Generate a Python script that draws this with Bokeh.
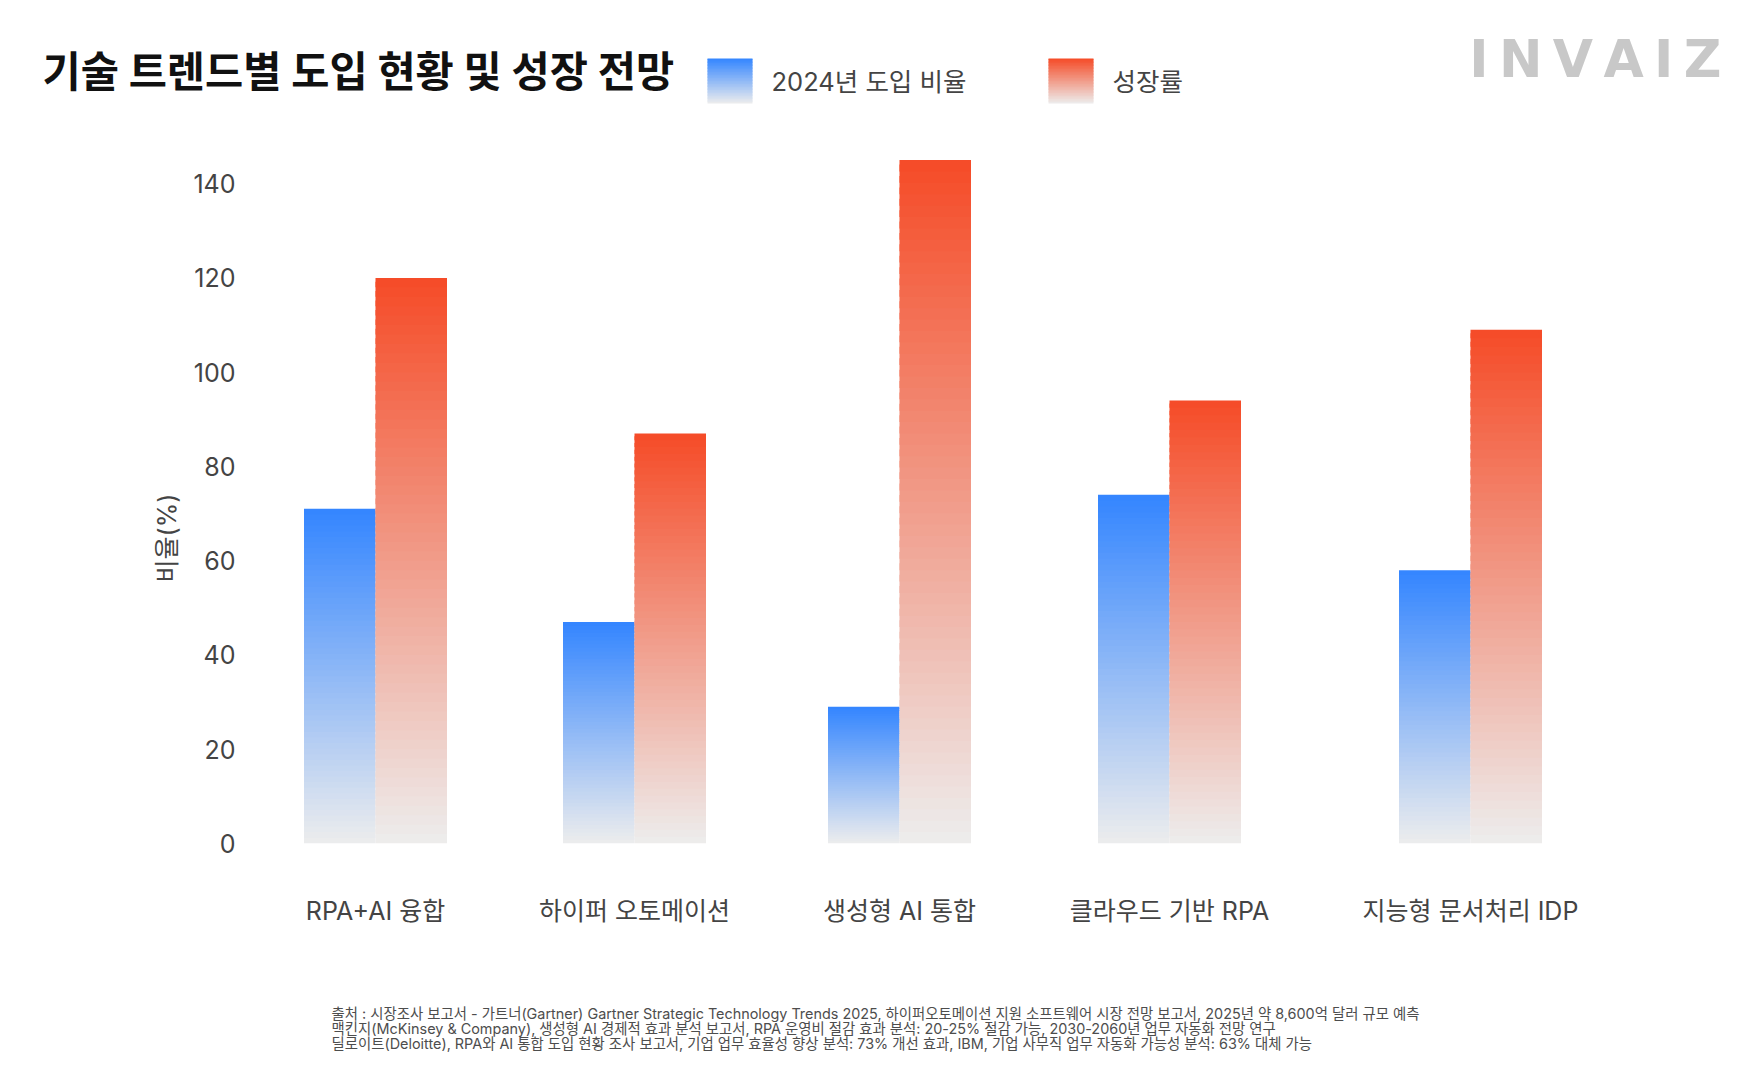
from math import pi

from bokeh.core.properties import value
from bokeh.embed import file_html
from bokeh.layouts import column, row
from bokeh.models import FixedTicker, Range1d
from bokeh.plotting import figure
from bokeh.resources import INLINE

# ---- data ------------------------------------------------------------------
categories = ["RPA+AI 융합", "하이퍼 오토메이션", "생성형 AI 통합", "클라우드 기반 RPA", "지능형 문서처리 IDP"]
adoption_2024 = [71, 47, 29, 74, 58]
growth_rate = [120, 87, 145, 94, 109]
y_ticks = [0, 20, 40, 60, 80, 100, 120, 140]

title_text = "기술 트렌드별 도입 현황 및 성장 전망"
series_names = ["2024년 도입 비율", "성장률"]
y_label = "비율(%)"
logo_text = "INVAIZ"
source_lines = [
    "출처 : 시장조사 보고서 - 가트너(Gartner) Gartner Strategic Technology Trends 2025, 하이퍼오토메이션 지원 소프트웨어 시장 전망 보고서, 2025년 약 8,600억 달러 규모 예측",
    "맥킨지(McKinsey & Company), 생성형 AI 경제적 효과 분석 보고서, RPA 운영비 절감 효과 분석: 20-25% 절감 가능, 2030-2060년 업무 자동화 전망 연구",
    "딜로이트(Deloitte), RPA와 AI 통합 도입 현황 조사 보고서, 기업 업무 효율성 향상 분석: 73% 개선 효과, IBM, 기업 사무직 업무 자동화 가능성 분석: 63% 대체 가능",
]

# ---- styling ----------------------------------------------------------------
FONT = "Inter, 'Noto Sans CJK KR', sans-serif"
TEXT = "#444444"
BLUE = "#3385ff"
RED = "#f54b27"
BASE = "#ededed"
N_STEPS = 60

# page layout in pixels (x to the right, y downwards)
PAGE_W, PAGE_H = 1745, 1071
HEADER_H = 136
FOOTER_TOP = 990
SIDE_W = 182
FRAME_L, FRAME_R = 262, 1625
FRAME_B = 843
Y_MAX = 150
TICK_FS = 25
LABEL_GAP = 90
FIRST_LABEL_LEFT = 304
BAR_W = 71.5


def mix(c0, c1, t):
    a = [int(c0[i:i + 2], 16) for i in (1, 3, 5)]
    b = [int(c1[i:i + 2], 16) for i in (1, 3, 5)]
    return "#%02x%02x%02x" % tuple(round(a[i] + (b[i] - a[i]) * t) for i in range(3))


LATIN_EM = {"R": 0.64, "P": 0.62, "A": 0.70, "I": 0.28, "D": 0.72, "+": 0.62, " ": 0.27}


def label_width(s, size):
    w = 0
    for ch in s:
        if "\uac00" <= ch <= "\ud7a3":
            w += 0.94 * size
        else:
            w += LATIN_EM.get(ch, 0.6) * size
    return w


def canvas(x0, x1, y0, y1):
    # a figure whose whole area is the frame, in page pixel units
    f = figure(width=x1 - x0, height=y1 - y0,
               x_range=Range1d(x0, x1), y_range=Range1d(y1, y0),
               x_axis_type=None, y_axis_type=None, min_border=0,
               output_backend="svg", toolbar_location=None, tools="")
    f.outline_line_color = None
    f.grid.visible = False
    return f


# groups sit under their labels, labels laid out with a fixed gap between them
centers = []
left = FIRST_LABEL_LEFT
for cat in categories:
    w = label_width(cat, TICK_FS)
    centers.append(round(left + w / 2))
    left += w + LABEL_GAP

# ---- main chart ---------------------------------------------------------------
p = figure(frame_width=FRAME_R - FRAME_L, frame_height=FRAME_B - HEADER_H,
           x_range=Range1d(FRAME_L, FRAME_R), y_range=Range1d(0, Y_MAX),
           min_border_left=FRAME_L - SIDE_W, min_border_right=PAGE_W - FRAME_R,
           min_border_top=0, min_border_bottom=FOOTER_TOP - FRAME_B,
           output_backend="svg", toolbar_location=None, tools="")
p.outline_line_color = None
p.xgrid.grid_line_color = None
p.ygrid.grid_line_color = None


def gradient_bars(xs, values, top_color):
    x, bottom, top, color = [], [], [], []
    for xi, v in zip(xs, values):
        for k in range(N_STEPS):
            x.append(xi)
            bottom.append(v * k / N_STEPS)
            top.append(min(v, v * (k + 1.6) / N_STEPS))
            color.append(mix(BASE, top_color, (k + 0.5) / N_STEPS))
    p.vbar(x=x, bottom=bottom, top=top, width=BAR_W,
           fill_color=color, line_color=None)


gradient_bars([c - BAR_W / 2 for c in centers], adoption_2024, BLUE)
gradient_bars([c + BAR_W / 2 for c in centers], growth_rate, RED)

p.yaxis.ticker = FixedTicker(ticks=y_ticks)
p.yaxis.major_label_standoff = 27
p.xaxis.ticker = FixedTicker(ticks=centers)
p.xaxis.major_label_overrides = {c: cat for c, cat in zip(centers, categories)}
p.xaxis.major_label_standoff = 52
for ax in (p.xaxis, p.yaxis):
    ax.axis_line_color = None
    ax.major_tick_line_color = None
    ax.minor_tick_line_color = None
    ax.major_tick_out = 0
    ax.major_label_text_font = FONT
    ax.major_label_text_font_size = "25px"
    ax.major_label_text_color = TEXT

# ---- y axis title strip ---------------------------------------------------------
side = canvas(0, SIDE_W, HEADER_H, FOOTER_TOP)
side.text(x=[166], y=[621], text=[y_label], angle=pi / 2,
          text_align="center", text_baseline="middle",
          text_font=value(FONT), text_font_size="25px", text_color=TEXT)

# ---- header: title, legend, logo ---------------------------------------------------
head = canvas(0, PAGE_W, 0, HEADER_H)
head.text(x=[42], y=[71], text=[title_text], text_baseline="middle",
          text_font=value(FONT), text_font_size="41.5px", text_font_style="bold",
          text_color="#111111")

SW_STEPS = 30
for (sw_left, top_color), name in zip([(707, BLUE), (1048, RED)], series_names):
    ys, hs, cs = [], [], []
    for k in range(SW_STEPS):
        y_bot = 103 - 45 * k / SW_STEPS
        y_top = max(58, 103 - 45 * (k + 1.5) / SW_STEPS)
        ys.append((y_bot + y_top) / 2)
        hs.append(y_bot - y_top)
        cs.append(mix(BASE, top_color, (k + 0.5) / SW_STEPS))
    head.rect(x=[sw_left + 22.5] * SW_STEPS, y=ys, width=45, height=hs,
              fill_color=cs, line_color=None)
    head.text(x=[sw_left + 64], y=[81], text=[name], text_baseline="middle",
              text_font=value(FONT), text_font_size="25.5px", text_color=TEXT)

# logo letters are widely tracked: thin spaces between them
head.text(x=[1721], y=[58], text=["\u2009".join(logo_text)], text_align="right",
          text_baseline="middle", text_font=value("DejaVu Sans"),
          text_font_size="52px", text_font_style="bold", text_color="#c8c8c8")

# ---- sources -------------------------------------------------------------------------
foot = canvas(0, PAGE_W, FOOTER_TOP, PAGE_H)
foot.text(x=[331] * len(source_lines), y=[1013 + 15 * i for i in range(len(source_lines))],
          text=source_lines, text_baseline="middle",
          text_font=value(FONT), text_font_size="14.4px", text_color="#4d4d4d")

layout = column(head, row(side, p), foot)
open("out.html", "w").write(file_html(layout, INLINE))
